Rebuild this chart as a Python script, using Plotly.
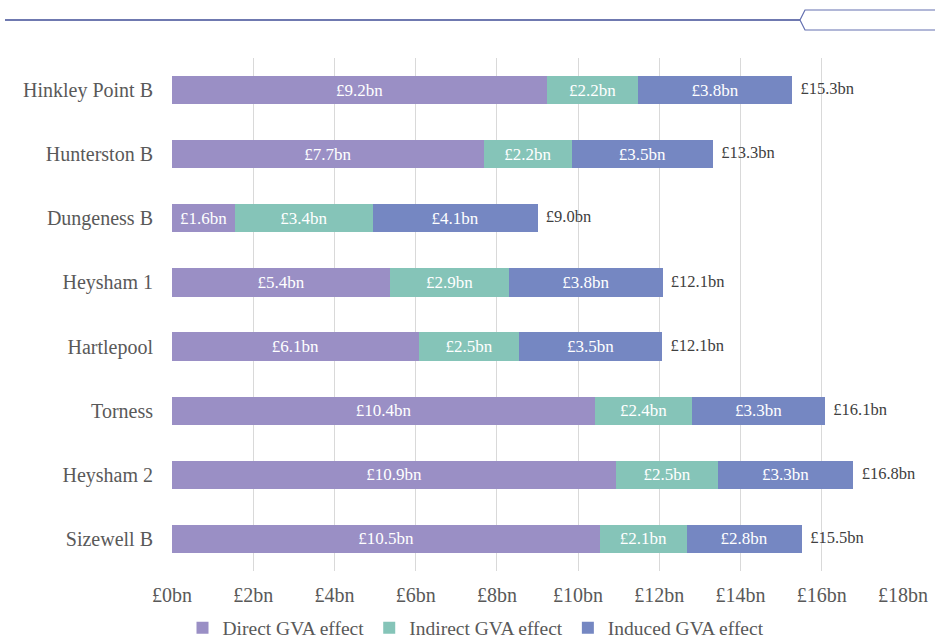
import plotly.graph_objects as go

stations = ["Hinkley Point B", "Hunterston B", "Dungeness B", "Heysham 1",
            "Hartlepool", "Torness", "Heysham 2", "Sizewell B"]
direct = [9.24, 7.68, 1.56, 5.37, 6.08, 10.42, 10.94, 10.54]
indirect = [2.24, 2.17, 3.38, 2.93, 2.47, 2.39, 2.50, 2.13]
induced = [3.79, 3.47, 4.06, 3.78, 3.52, 3.27, 3.34, 2.84]
tick_vals = [0, 2, 4, 6, 8, 10, 12, 14, 16, 18]
tick_text = ["£0bn", "£2bn", "£4bn", "£6bn", "£8bn", "£10bn", "£12bn", "£14bn", "£16bn", "£18bn"]

totals = [a + b + c for a, b, c in zip(direct, indirect, induced)]

FONT = "Liberation Serif"
W, H = 935, 640
L, R, T, B = 172, 32, 58, 69
pw, ph = W - L - R, H - T - B


def px(x):
    return (x - L) / pw


def py(y):
    return 1 - (y - T) / ph


fig = go.Figure()
series = [("Direct GVA effect", direct, "#9a8fc5"),
          ("Indirect GVA effect", indirect, "#85c4b8"),
          ("Induced GVA effect", induced, "#7587c2")]
for name, vals, col in series:
    fig.add_trace(go.Bar(
        y=stations, x=vals, name=name, orientation="h",
        marker=dict(color=col, line=dict(width=0)),
        text=[f"£{v:.1f}bn" for v in vals],
        textposition="inside", insidetextanchor="middle",
        textfont=dict(family=FONT, size=17, color="white"),
        width=0.44, hoverinfo="skip"))

fig.add_trace(go.Scatter(
    y=stations, x=totals, mode="text",
    text=[f"  £{t:.1f}bn" for t in totals],
    textposition="middle right",
    textfont=dict(family=FONT, size=16.5, color="#404040"),
    showlegend=False, hoverinfo="skip", cliponaxis=False))

fig.add_shape(type="line", xref="paper", yref="paper",
              x0=px(5), x1=px(800), y0=py(20), y1=py(20),
              line=dict(color="#3f4c96", width=1.5))
fig.add_shape(type="path", xref="paper", yref="paper",
              path=f"M {px(936)} {py(10)} L {px(805)} {py(10)} L {px(800)} {py(20)} "
                   f"L {px(805)} {py(30)} L {px(936)} {py(30)}",
              line=dict(color="#6470b0", width=1.2))

fig.update_layout(
    width=W, height=H,
    margin=dict(l=L, r=R, t=T, b=B, autoexpand=False),
    barmode="stack",
    plot_bgcolor="white", paper_bgcolor="white",
    font=dict(family=FONT, size=20, color="#595959"),
    xaxis=dict(range=[0, 18], tickvals=tick_vals, ticktext=tick_text,
               showgrid=True, gridcolor="#d9d9d9", gridwidth=1,
               zeroline=False, showline=False, ticks="", automargin=False,
               ticklabelstandoff=10,
               tickfont=dict(family=FONT, size=20, color="#595959")),
    yaxis=dict(categoryorder="array", categoryarray=stations,
               autorange="reversed", showgrid=False, zeroline=False,
               ticks="", ticklabelstandoff=18, automargin=False,
               tickfont=dict(family=FONT, size=20, color="#595959")),
    legend=dict(orientation="h", x=px(476), xanchor="center",
                y=py(628), yanchor="middle",
                font=dict(family=FONT, size=19.5, color="#595959"),
                itemwidth=30, traceorder="normal", tracegroupgap=0),
    showlegend=True,
)

fig.write_html("out.html", config={"displayModeBar": False},
               post_script="document.body.style.margin='0';document.body.style.overflow='hidden';")
